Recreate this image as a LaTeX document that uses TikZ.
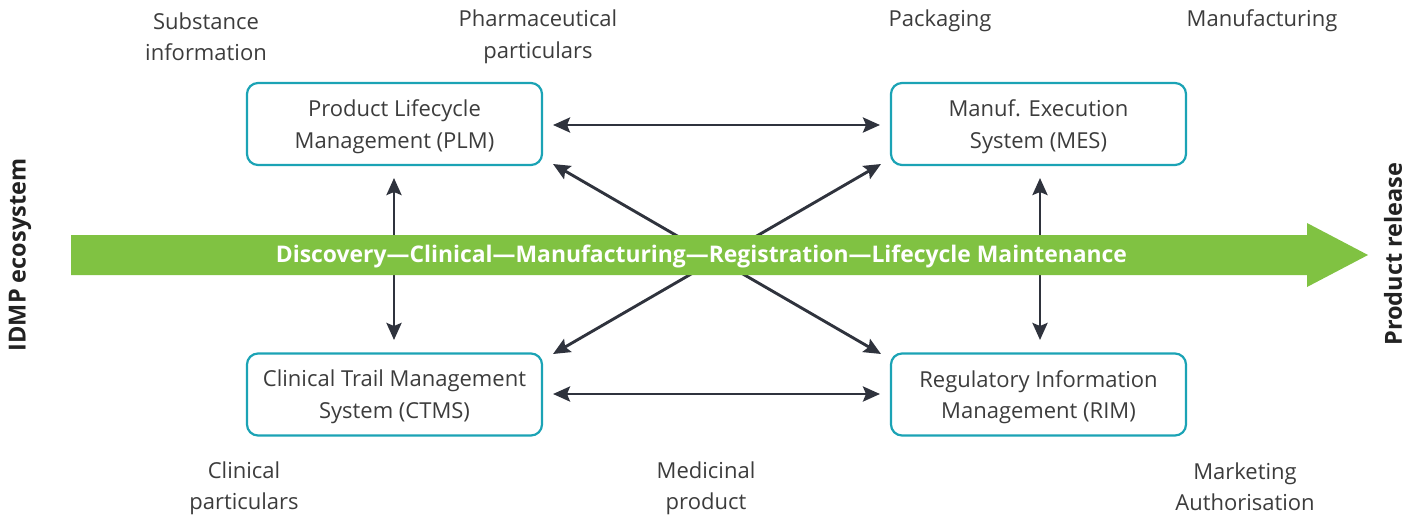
\documentclass[tikz,border=0pt]{standalone}
\usepackage{fontspec}
\setmainfont{Open Sans}
\usetikzlibrary{arrows.meta}
\definecolor{teal}{HTML}{1BA3B5}
\definecolor{leaf}{HTML}{80C242}
\definecolor{ink}{HTML}{2F333D}
\definecolor{txt}{HTML}{3C3C3C}
\definecolor{dark}{HTML}{222222}
\tikzset{
  sysbox/.style={draw=teal, line width=2.2pt, rounded corners=11pt, minimum width=295pt, minimum height=82pt, inner sep=0pt},
  lbl/.style={align=center, text=txt, font=\fontsize{22}{31.5}\selectfont, inner sep=0pt},
  side/.style={text=dark, font=\bfseries\fontsize{23.5}{26}\selectfont, rotate=90, inner sep=0pt},
  link/.style={draw=ink, line width=2.9pt, {Stealth[length=17pt,width=15pt,inset=3pt]}-{Stealth[length=17pt,width=15pt,inset=3pt]}}
}
\begin{document}
\begin{tikzpicture}[x=1pt,y=-1pt]
\useasboundingbox (0,0) rectangle (1418,517);
% boxes
\node[sysbox] (plm) at (394.5,124) {};
\node[sysbox] (mes) at (1038.5,124) {};
\node[sysbox] (ctms) at (394.5,394.5) {};
\node[sysbox] (rim) at (1038.5,394.5) {};
\node[lbl] (plmT) at ([yshift=-2.5pt]plm.center) {Product Lifecycle\\Management (PLM)};
\node[lbl] (mesT) at ([yshift=-2.5pt]mes.center) {Manuf. Execution\\System (MES)};
\node[lbl] (ctmsT) at ([yshift=-2.5pt]ctms.center) {Clinical Trail Management\\System (CTMS)};
\node[lbl] (rimT) at ([yshift=-2.5pt]rim.center) {Regulatory Information\\Management (RIM)};
% connector end points
\coordinate (plmR) at (553,125);
\coordinate (mesL) at (880,125);
\coordinate (ctmsR) at (553,394);
\coordinate (rimL) at (880,394);
\coordinate (plmB) at (394,178);
\coordinate (ctmsU) at (394,340);
\coordinate (mesB) at (1040,178);
\coordinate (rimU) at (1040,340);
\coordinate (plmC) at (553,164);
\coordinate (mesC) at (881,164);
\coordinate (ctmsC) at (553,354);
\coordinate (rimC) at (881,354);
\draw[link] (plmR) -- (mesL);
\draw[link] (ctmsR) -- (rimL);
\draw[link] (plmB) -- (ctmsU);
\draw[link] (mesB) -- (rimU);
\draw[link] (plmC) -- (rimC);
\draw[link] (mesC) -- (ctmsC);
% green process arrow
\fill[leaf] (71,235) -- (1307,235) -- (1307,223) -- (1368,255) -- (1307,287) -- (1307,275) -- (71,275) -- cycle;
\node[text=white, font=\bfseries\fontsize{22.9}{26}\selectfont, inner sep=0pt] (flow) at (701.5,256) {Discovery—Clinical—Manufacturing—Registration—Lifecycle Maintenance};
% side labels
\node[side] (idmp) at (20,255) {IDMP ecosystem};
\node[side] (rel) at (1393,254) {Product release};
% data labels
\node[lbl] (subst) at (206,36.5) {Substance\\information};
\node[lbl] (pharm) at (538,37) {Pharmaceutical\\particulars};
\node[lbl] (pack) at (940,21) {Packaging};
\node[lbl] (manu) at (1262,21) {Manufacturing};
\node[lbl] (clin) at (244,488.5) {Clinical\\particulars};
\node[lbl] (med) at (706,488.5) {Medicinal\\product};
\node[lbl] (mkt) at (1245,486.5) {Marketing\\Authorisation};
\end{tikzpicture}
\end{document}
